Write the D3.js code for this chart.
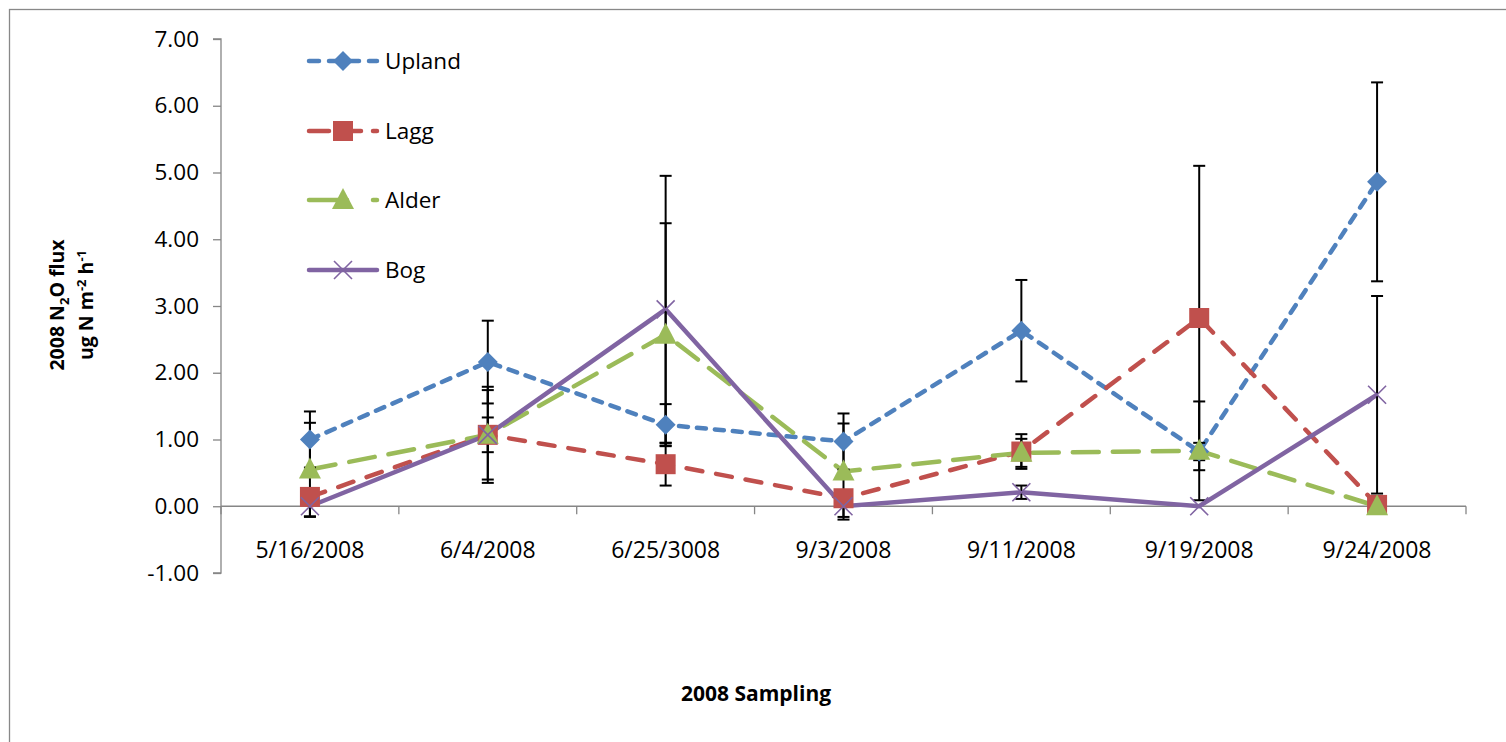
<!DOCTYPE html>
<html><head><meta charset="utf-8">
<script src="https://cdn.jsdelivr.net/npm/d3@7"></script>
<style>
body{margin:0;background:#fff;}
svg text{font-family:"Open Sans","Noto Sans",sans-serif;}
</style></head>
<body><svg id="c" width="1506" height="742"></svg>
<script>
const categories = ["5/16/2008","6/4/2008","6/25/3008","9/3/2008","9/11/2008","9/19/2008","9/24/2008"];
const seriesNames = ["Upland","Lagg","Alder","Bog"];
const upland = [1.00, 2.16, 1.22, 0.97, 2.63, 0.82, 4.86];
const lagg   = [0.14, 1.07, 0.63, 0.12, 0.82, 2.82, 0.02];
const alder  = [0.55, 1.07, 2.57, 0.52, 0.80, 0.83, 0.00];
const bog    = [0.00, 1.07, 2.95, 0.00, 0.21, 0.00, 1.67];
const uplandErr = [0.42, 0.62, 0.31, 0.42, 0.76, 0.13, 1.49];
const laggErr   = [0.10, 0.72, 0.32, 0.10, 0.26, 2.28, 0.00];
const alderErr  = [0.70, 0.67, 1.67, 0.72, 0.21, 0.74, 0.00];
const bogErr    = [0.16, 0.26, 2.00, 0.16, 0.10, 0.00, 1.48];
const yTicks = [-1,0,1,2,3,4,5,6,7];

(function(){
const colors = {Upland:"#4F81BD", Lagg:"#C0504D", Alder:"#9BBB59", Bog:"#8064A2"};
const dashes = {Upland:"9,9", Lagg:"16,14", Alder:"26,14", Bog:null};
const valuesBy = [upland, lagg, alder, bog];
const errBy = [uplandErr, laggErr, alderErr, bogErr];
const markers = ["diamond","square","triangle","x"];
const series = seriesNames.map((n,i)=>({name:n, values:valuesBy[i], err:errBy[i], marker:markers[i]}));

const svg = d3.select("#c");
svg.append("rect").attr("x",9.5).attr("y",9.5).attr("width",1520).attr("height",760)
  .attr("fill","none").attr("stroke","#888").attr("stroke-width",1.3);

const pL=221, pR=1466, pT=39, pB=573;
const x = d3.scaleBand().domain(categories).range([pL,pR]);
const y = d3.scaleLinear().domain([-1,7]).range([pB,pT]);

const fmt = d => d.toFixed(2);
const yAxis = d3.axisLeft(y).tickValues(yTicks).tickFormat(fmt).tickSize(8).tickPadding(14);
const gy = svg.append("g").attr("transform",`translate(${pL},0)`).call(yAxis);
gy.selectAll("path,line").attr("stroke","#868686").attr("stroke-width",1.3);
gy.select(".domain").attr("d",`M-8,${y(7)}H0V${y(-1)}H-8`);
gy.selectAll("text").attr("font-size",22.5).attr("fill","#000").style("font-family","'Open Sans',sans-serif");

const gx = svg.append("g").attr("transform",`translate(0,${y(0)})`);
gx.append("line").attr("x1",pL).attr("x2",pR).attr("stroke","#868686").attr("stroke-width",1.3);
const bounds = categories.map(c=>x(c)).concat([pR]);
gx.selectAll("line.tk").data(bounds).join("line").attr("class","tk")
  .attr("x1",d=>d).attr("x2",d=>d).attr("y1",0).attr("y2",8).attr("stroke","#868686").attr("stroke-width",1.3);
gx.selectAll("text").data(categories).join("text")
  .attr("x",d=>x(d)+x.bandwidth()/2).attr("y",52).attr("text-anchor","middle")
  .attr("font-size",23).attr("fill","#000").text(d=>d);

const cx = c => x(c)+x.bandwidth()/2;

const line = d3.line().x((d,i)=>cx(categories[i])).y(d=>y(d));
series.forEach(s=>{
  svg.append("path").datum(s.values).attr("d",line).attr("fill","none")
    .attr("stroke",colors[s.name]).attr("stroke-width",4.5)
    .attr("stroke-linecap", s.name==="Bog"?"butt":"round")
    .attr("stroke-dasharray",dashes[s.name]);
});

const eg = svg.append("g");
series.forEach(s=>{
  s.values.forEach((v,i)=>{
    const e = s.err[i]; if(!e) return;
    const px = cx(categories[i]);
    eg.append("line").attr("x1",px).attr("x2",px).attr("y1",y(v+e)).attr("y2",y(v-e)).attr("stroke","#000").attr("stroke-width",2);
    [v+e,v-e].forEach(t=>eg.append("line").attr("x1",px-6).attr("x2",px+6).attr("y1",y(t)).attr("y2",y(t)).attr("stroke","#000").attr("stroke-width",2));
  });
});

function marker(g, type, px, py, color){
  if(type==="diamond"){
    g.append("path").attr("d",`M${px},${py-10}L${px+10},${py}L${px},${py+10}L${px-10},${py}Z`).attr("fill",color);
  } else if(type==="square"){
    g.append("rect").attr("x",px-10).attr("y",py-10).attr("width",20).attr("height",20).attr("fill",color);
  } else if(type==="triangle"){
    g.append("path").attr("d",`M${px},${py-12}L${px+11},${py+9}L${px-11},${py+9}Z`).attr("fill",color);
  } else {
    g.append("path").attr("d",`M${px-9},${py-9}L${px+9},${py+9}M${px-9},${py+9}L${px+9},${py-9}`).attr("stroke",color).attr("stroke-width",1.6);
  }
}
const mg = svg.append("g");
series.forEach(s=>{
  s.values.forEach((v,i)=>marker(mg,s.marker,cx(categories[i]),y(v),colors[s.name]));
});

const lg = svg.append("g");
const legY = [61,131,200,270];
series.forEach((s,i)=>{
  const ly = legY[i];
  lg.append("line").attr("x1",309).attr("x2",377).attr("y1",ly).attr("y2",ly)
    .attr("stroke",colors[s.name]).attr("stroke-width",4.5).attr("stroke-linecap","round")
    .attr("stroke-dasharray", s.name==="Upland"?"10,10": s.name==="Lagg"?"20,12": s.name==="Alder"?"38,26":null);
  marker(lg,s.marker,343,ly,colors[s.name]);
  lg.append("text").attr("x",385).attr("y",ly+8).attr("font-size",22.5).attr("fill","#000").text(s.name);
});

const yt = svg.append("text").attr("transform","translate(64,305) rotate(-90)").attr("text-anchor","middle")
  .attr("font-size",19.5).attr("font-weight","bold").attr("fill","#000");
yt.append("tspan").text("2008 N");
yt.append("tspan").attr("font-size",13).attr("dy",5).text("2");
yt.append("tspan").attr("dy",-5).text("O flux");
const yt2 = svg.append("text").attr("transform","translate(93,305) rotate(-90)").attr("text-anchor","middle")
  .attr("font-size",19.5).attr("font-weight","bold").attr("fill","#000");
yt2.append("tspan").text("ug N m");
yt2.append("tspan").attr("font-size",13).attr("dy",-7).text("-2");
yt2.append("tspan").attr("dy",7).text(" h");
yt2.append("tspan").attr("font-size",13).attr("dy",-7).text("-1");

svg.append("text").attr("x",756).attr("y",701).attr("text-anchor","middle")
  .attr("font-size",21).attr("font-weight","bold").attr("fill","#000").text("2008 Sampling");
})();
</script></body></html>
